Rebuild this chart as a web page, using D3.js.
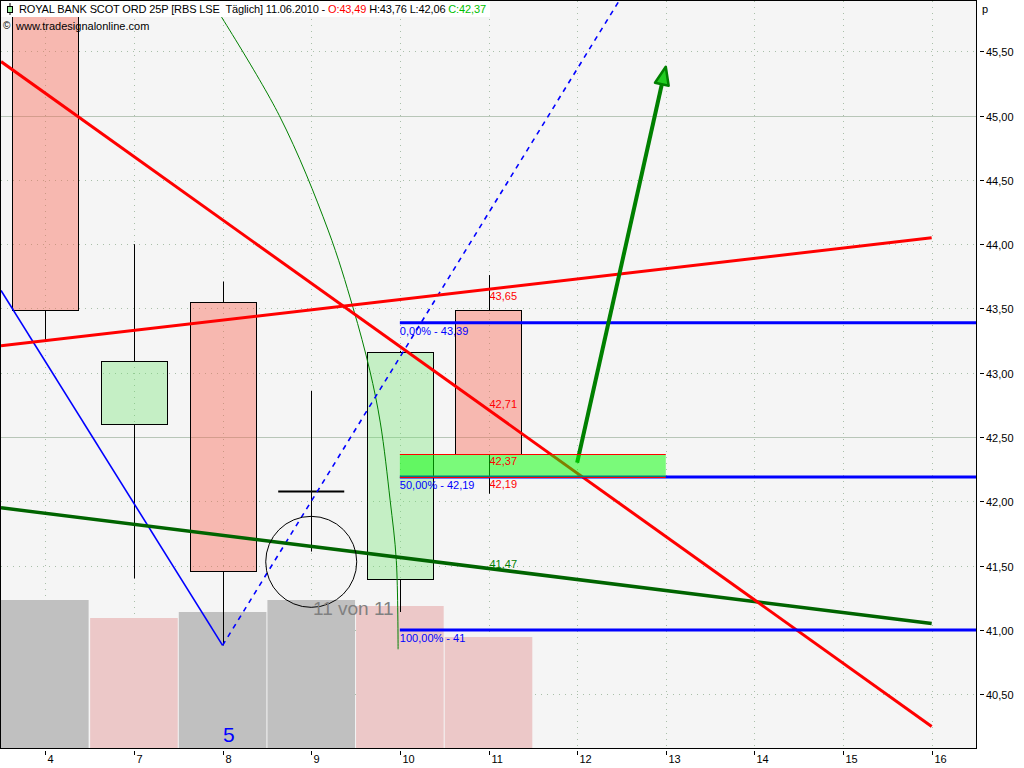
<!DOCTYPE html>
<html><head><meta charset="utf-8">
<script src="https://cdn.jsdelivr.net/npm/d3@7"></script>
<style>html,body{margin:0;padding:0;background:#fff;} svg{display:block;font-family:"Liberation Sans",Arial,sans-serif;}</style>
</head><body>
<svg id="c" width="1024" height="768"></svg>
<script>
// ---------- data ----------
const xTickLabels = ["4","7","8","9","10","11","12","13","14","15","16"];
const candleDates = ["4","7","8","9","10","11"];
const opens  = [46.20, 42.60, 43.55, 42.08, 41.40, 43.49];
const highs  = [46.50, 44.00, 43.71, 42.86, 43.17, 43.76];
const lows   = [43.24, 41.40, 40.88, 41.61, 41.14, 42.06];
const closes = [43.49, 43.09, 41.46, 42.08, 43.16, 42.37];
const volumes = [148, 130, 136, 148, 142, 111];
const volumeKind = ["grey","pink","grey","grey","pink","pink"];
const yTicks = [40.5,41,41.5,42,42.5,43,43.5,44,44.5,45,45.5];
const yTickLabels = ["40,50","41,00","41,50","42,00","42,50","43,00","43,50","44,00","44,50","45,00","45,50"];
const majorGrid = [42.5, 45.0];
const redFalling = [[-0.5,45.42],[10,40.25]];
const redRising  = [[-0.5,43.21],[10,44.05]];
const greenTrend = [[-0.5,41.95],[10,41.05]];
const blueLeg    = [[-0.5,43.64],[2,40.88]];
const blueDashed = [[2,40.88],[6.48,45.90]];
const fibLevels = [43.39, 42.19, 41.00];
const fibLabels = ["0,00% - 43,39","50,00% - 42,19","100,00% - 41"];
const fibStartIndex = 4;
const zoneRange = [4, 7];
const zoneValues = [42.37, 42.19];
const arrowPts = [[6,42.30],[7,45.38]];
const arcPts = [[1.82,45.95],[2.64,45.00],[3.19,44.11],[3.47,43.51],[3.66,43.02],[3.78,42.61],[3.89,42.01],[3.96,41.54],[3.98,40.85]];
const circleCenter = [3, 41.53];
const redLabelTexts = ["43,65","42,71","42,37","42,19"];
const redLabelValues = [43.65, 42.71, 42.37, 42.19];
const redLabelBelow = [true, false, true, true];
const greenLabelText = "41,47";
const greenLabelValue = 41.47;
const labelIndex = 5;
const waveLabel = {text:"5", index:2.07, value:40.13};
const pageLabel = {text:"11 von 11", index:3.02, value:41.12};

// ---------- layout ----------
const L = 1, R = 976, T = 1, B = 748;
const svg = d3.select("#c");
const x = d3.scaleLinear().domain([-0.5, 10.5]).range([L, R]);
const y = d3.scaleLinear().domain([40.0824, 45.891]).range([B, T]);
const yVol = d3.scaleLinear().domain([0, 250]).range([B, B - 250]);
const step = x(1) - x(0);

svg.append("rect").attr("width",1024).attr("height",768).attr("fill","#fff");
svg.append("defs").append("clipPath").attr("id","clip")
  .append("rect").attr("x",L).attr("y",T).attr("width",R-L).attr("height",B-T);
svg.append("rect").attr("x",L).attr("y",T).attr("width",R-L).attr("height",B-T).attr("fill","#f5f5f5");

const g = svg.append("g").attr("clip-path","url(#clip)");

// grid
const gridCol = "#a9bfa9";
g.selectAll(".hg").data(yTicks.filter(v => !majorGrid.includes(v))).join("line")
  .attr("x1",L).attr("x2",R).attr("y1",d=>Math.round(y(d))+0.5).attr("y2",d=>Math.round(y(d))+0.5)
  .attr("stroke",gridCol).attr("stroke-dasharray","1,5");
g.selectAll(".hm").data(majorGrid).join("line")
  .attr("x1",L).attr("x2",R).attr("y1",d=>Math.round(y(d))+0.5).attr("y2",d=>Math.round(y(d))+0.5)
  .attr("stroke","#b8c6b8");
g.selectAll(".vg").data(xTickLabels).join("line")
  .attr("x1",(d,i)=>Math.round(x(i))+0.5).attr("x2",(d,i)=>Math.round(x(i))+0.5)
  .attr("y1",T).attr("y2",B).attr("stroke",gridCol).attr("stroke-dasharray","1,5");

// volume
g.selectAll(".vol").data(volumes).join("rect")
  .attr("x",(d,i)=> i===0 ? L-1 : x(i)-step/2+0.5)
  .attr("width",(d,i)=> i===0 ? x(0)+step/2-L : step-1)
  .attr("y",d=>yVol(d)).attr("height",d=>B-yVol(d))
  .attr("fill",(d,i)=> volumeKind[i]==="grey" ? "#c0c0c0" : "#ecc8c8");

// candles
const bw = step*0.745;
const cg = g.append("g");
candleDates.forEach((d,i)=>{
  const cx = Math.round(x(i))+0.5;
  const hi = Math.max(opens[i],closes[i]), lo = Math.min(opens[i],closes[i]);
  const top = Math.round(y(hi))+0.5, bot = Math.round(y(lo))+0.5;
  if (highs[i] > hi) cg.append("line").attr("x1",cx).attr("x2",cx).attr("y1",y(highs[i])).attr("y2",top).attr("stroke","#000");
  if (lows[i] < lo) cg.append("line").attr("x1",cx).attr("x2",cx).attr("y1",bot).attr("y2",y(lows[i])).attr("stroke","#000");
  if (Math.abs(opens[i]-closes[i]) < 0.005) {
    cg.append("line").attr("x1",x(i)-bw/2).attr("x2",x(i)+bw/2).attr("y1",top).attr("y2",top)
      .attr("stroke","#000").attr("stroke-width",2);
  } else {
    const up = closes[i] > opens[i];
    cg.append("rect").attr("x",Math.round(x(i)-bw/2)+0.5).attr("y",top)
      .attr("width",Math.round(bw)).attr("height",bot-top)
      .attr("fill", up ? "rgba(110,230,110,0.35)" : "rgba(250,100,80,0.42)")
      .attr("stroke","#000").attr("stroke-width",1);
  }
});

const line = d3.line().x(d=>x(d[0])).y(d=>y(d[1]));

// arc
g.append("path").attr("d", d3.line().x(d=>x(d[0])).y(d=>y(d[1])).curve(d3.curveCatmullRom)(arcPts))
  .attr("fill","none").attr("stroke","#008000").attr("stroke-width",1);

// blue leg + dashed
g.append("path").attr("d",line(blueLeg)).attr("stroke","#0000ff").attr("stroke-width",1.6).attr("fill","none");
g.append("path").attr("d",line(blueDashed)).attr("stroke","#0000ff").attr("stroke-width",1.6)
  .attr("stroke-dasharray","5,5").attr("fill","none");

// red lines & green trend
g.append("path").attr("d",line(redRising)).attr("stroke","#ff0000").attr("stroke-width",3).attr("fill","none");
g.append("path").attr("d",line(greenTrend)).attr("stroke","#006400").attr("stroke-width",3.5).attr("fill","none");
g.append("path").attr("d",line(redFalling)).attr("stroke","#ff0000").attr("stroke-width",3).attr("fill","none");

// fib lines
g.selectAll(".fib").data(fibLevels).join("line")
  .attr("x1",x(fibStartIndex)).attr("x2",R).attr("y1",d=>y(d)).attr("y2",d=>y(d))
  .attr("stroke","#0000ff").attr("stroke-width",3);
g.selectAll(".fibt").data(fibLevels).join("text")
  .attr("x",x(fibStartIndex)).attr("y",d=>y(d)+12).text((d,i)=>fibLabels[i])
  .attr("font-size",11).attr("fill","#0000ff");

// circle
g.append("circle").attr("cx",x(circleCenter[0])).attr("cy",y(circleCenter[1])).attr("r",45.5)
  .attr("fill","none").attr("stroke","#000").attr("stroke-width",1);

// arrow
const a0 = [x(arrowPts[0][0]), y(arrowPts[0][1])], a1 = [x(arrowPts[1][0]), y(arrowPts[1][1])];
const ang = Math.atan2(a1[1]-a0[1], a1[0]-a0[0]);
const hl = 18, hw = 7;
const base = [a1[0]-hl*Math.cos(ang), a1[1]-hl*Math.sin(ang)];
g.append("line").attr("x1",a0[0]).attr("y1",a0[1]).attr("x2",base[0]).attr("y2",base[1])
  .attr("stroke","#008000").attr("stroke-width",4);
const px = -Math.sin(ang), py = Math.cos(ang);
g.append("path").attr("d",`M${a1[0]},${a1[1]}L${base[0]+hw*px},${base[1]+hw*py}L${base[0]-hw*px},${base[1]-hw*py}Z`)
  .attr("fill","#22cc22").attr("stroke","#008000").attr("stroke-width",2.5).attr("stroke-linejoin","round");

// zone
const zt = Math.round(y(zoneValues[0]))+0.5, zb = Math.round(y(zoneValues[1]))+0.5;
g.append("rect").attr("x",x(zoneRange[0])).attr("y",zt).attr("width",x(zoneRange[1])-x(zoneRange[0])).attr("height",zb-zt)
  .attr("fill","rgba(0,255,0,0.5)");
[zt,zb].forEach(v=>g.append("line").attr("x1",x(zoneRange[0])).attr("x2",x(zoneRange[1])).attr("y1",v).attr("y2",v)
  .attr("stroke","#ff0000").attr("stroke-width",1));

// labels
redLabelTexts.forEach((t,i)=>{
  g.append("text").attr("x",x(labelIndex)+1).attr("y", redLabelBelow[i] ? y(redLabelValues[i])+11 : y(redLabelValues[i])-2)
    .text(t).attr("font-size",11).attr("fill","#ff0000");
});
g.append("text").attr("x",x(labelIndex)+1).attr("y",y(greenLabelValue)-2).text(greenLabelText)
  .attr("font-size",11).attr("fill","#008000");
g.append("text").attr("x",x(pageLabel.index)).attr("y",y(pageLabel.value)).text(pageLabel.text)
  .attr("font-size",19).attr("fill","#808080");
g.append("text").attr("x",x(waveLabel.index)).attr("y",y(waveLabel.value)).attr("text-anchor","middle")
  .text(waveLabel.text).attr("font-size",21).attr("fill","#0000ff");

// header
svg.append("rect").attr("x",1).attr("y",1).attr("width",489).attr("height",16).attr("fill","#fff");
svg.append("line").attr("x1",10).attr("x2",10).attr("y1",3).attr("y2",15).attr("stroke","#000");
svg.append("rect").attr("x",7.5).attr("y",6.5).attr("width",5).attr("height",6).attr("fill","#a0f0a0").attr("stroke","#000");
const ht = svg.append("text").attr("x",19).attr("y",13).attr("font-size",11).attr("fill","#000")
  .attr("textLength",467).attr("lengthAdjust","spacing");
ht.append("tspan").text("ROYAL BANK SCOT ORD 25P [RBS LSE\u00a0\u00a0Täglich] 11.06.2010 - ");
ht.append("tspan").attr("fill","#ff0000").text("O:43,49");
ht.append("tspan").text(" H:43,76 L:42,06 ");
ht.append("tspan").attr("fill","#00c000").text("C:42,37");
svg.append("text").attr("x",3).attr("y",29).attr("font-size",10).text("©");
svg.append("text").attr("x",16).attr("y",30).attr("font-size",11).text("www.tradesignalonline.com");

// frame
svg.append("rect").attr("x",0.5).attr("y",0.5).attr("width",R).attr("height",B).attr("fill","none").attr("stroke","#000");

// y axis
const ya = svg.append("g");
yTicks.forEach((v,i)=>{
  const yy = Math.round(y(v))+0.5;
  ya.append("line").attr("x1",980).attr("x2",984).attr("y1",yy).attr("y2",yy).attr("stroke","#000");
  ya.append("text").attr("x",986).attr("y",yy+4).attr("font-size",11).text(yTickLabels[i]);
});
svg.append("text").attr("x",982).attr("y",13).attr("font-size",11).text("p");

// x axis
xTickLabels.forEach((t,i)=>{
  const xx = Math.round(x(i))+0.5;
  svg.append("line").attr("x1",xx).attr("x2",xx).attr("y1",751).attr("y2",755).attr("stroke","#000");
  svg.append("text").attr("x",xx+2).attr("y",763).attr("font-size",11).text(t);
});
</script>
</body></html>
